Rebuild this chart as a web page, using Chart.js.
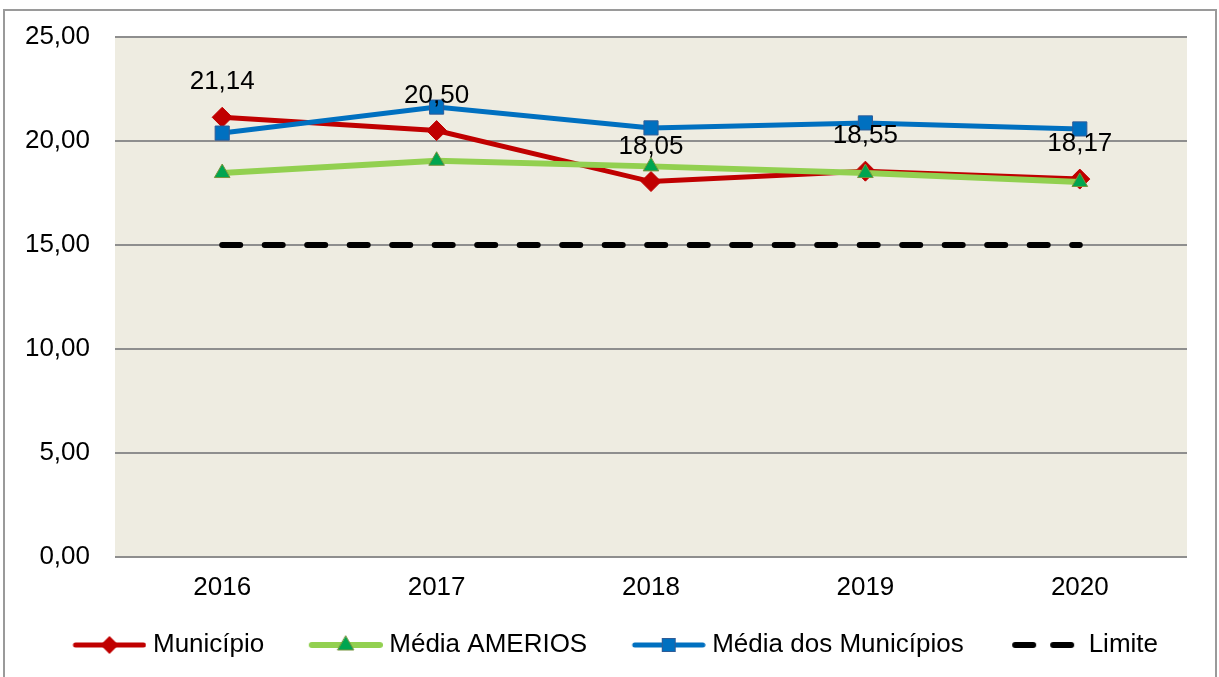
<!DOCTYPE html>
<html>
<head>
<meta charset="utf-8">
<script src="https://cdn.jsdelivr.net/npm/chart.js@4"></script>
<style>
    html, body { margin: 0; padding: 0; background: #fff; }
    #wrap { position: relative; width: 1219px; height: 677px; overflow: hidden; }
    #chart { position: absolute; left: 0; top: 0; }
    /* moldura cinza do gráfico (a base fica fora da área visível) */
    #frame { position: absolute; left: 3px; top: 9px; width: 1210px; height: 720px; border: 2px solid #9a9a9a; pointer-events: none; }
</style>
</head>
<body>
<div id="wrap">
    <canvas id="chart" width="1219" height="677"></canvas>
    <div id="frame"></div>
</div>
<script>
// Dados
const anos = ['2016', '2017', '2018', '2019', '2020'];
const municipio = [21.14, 20.50, 18.05, 18.55, 18.17];
const mediaAmerios = [18.46, 19.05, 18.78, 18.46, 18.03];
const mediaMunicipios = [20.38, 21.63, 20.63, 20.87, 20.58];
const limite = [15, 15, 15, 15, 15];
const yTicks = [0, 5, 10, 15, 20, 25];

const FONTE = "'Liberation Sans', Arial, sans-serif";
const TAM = 26;
const formatar = v => v.toFixed(2).replace('.', ',');

// Ícones da legenda no estilo Excel (linha com marcador no meio)
function criarIcone(desenhar) {
    const c = document.createElement('canvas');
    c.width = 115;
    c.height = 26;
    desenhar(c.getContext('2d'));
    return c;
}

function linha(ctx, cor, largura) {
    ctx.strokeStyle = cor;
    ctx.lineWidth = largura;
    ctx.lineCap = 'round';
    ctx.beginPath();
    ctx.moveTo(44, 13);
    ctx.lineTo(112, 13);
    ctx.stroke();
}

const icones = [
    criarIcone(ctx => {
        linha(ctx, '#C00000', 5);
        ctx.fillStyle = '#C00000';
        ctx.beginPath();
        ctx.moveTo(69, 13); ctx.lineTo(78, 4); ctx.lineTo(87, 13); ctx.lineTo(78, 22);
        ctx.closePath();
        ctx.fill();
    }),
    criarIcone(ctx => {
        linha(ctx, '#92D050', 6);
        ctx.fillStyle = '#00A550';
        ctx.strokeStyle = '#77933C';
        ctx.lineWidth = 1;
        ctx.beginPath();
        ctx.moveTo(78, 4); ctx.lineTo(86, 18); ctx.lineTo(70, 18);
        ctx.closePath();
        ctx.fill();
        ctx.stroke();
    }),
    criarIcone(ctx => {
        linha(ctx, '#0070C0', 5);
        ctx.fillStyle = '#0070C0';
        ctx.strokeStyle = '#2F5C97';
        ctx.lineWidth = 1;
        ctx.fillRect(71, 6, 14, 14);
        ctx.strokeRect(71.5, 6.5, 13, 13);
    }),
    criarIcone(ctx => {
        ctx.strokeStyle = '#000';
        ctx.lineWidth = 6;
        ctx.lineCap = 'round';
        ctx.beginPath();
        ctx.moveTo(48, 13); ctx.lineTo(66, 13);
        ctx.moveTo(86, 13); ctx.lineTo(104, 13);
        ctx.stroke();
    })
];

// Fundo bege da área de plotagem
const fundoPlotagem = {
    id: 'fundoPlotagem',
    beforeDraw(chart) {
        const { ctx, chartArea: a } = chart;
        ctx.save();
        ctx.fillStyle = '#EEECE1';
        ctx.fillRect(a.left, a.top, a.right - a.left, a.bottom - a.top);
        ctx.restore();
    }
};

// Rótulos de valores acima da série Município
const rotulosMunicipio = {
    id: 'rotulosMunicipio',
    afterDatasetsDraw(chart) {
        const { ctx } = chart;
        const meta = chart.getDatasetMeta(0);
        ctx.save();
        ctx.font = `${TAM}px ${FONTE}`;
        ctx.fillStyle = '#000';
        ctx.textAlign = 'center';
        ctx.textBaseline = 'middle';
        meta.data.forEach((pt, i) => {
            ctx.fillText(formatar(municipio[i]), pt.x, pt.y - 35);
        });
        ctx.restore();
    }
};

new Chart(document.getElementById('chart'), {
    type: 'line',
    data: {
        labels: anos,
        datasets: [
            {
                label: 'Município',
                data: municipio,
                borderColor: '#C00000',
                borderWidth: 5,
                pointStyle: 'rectRot',
                pointRadius: 10,
                pointBackgroundColor: '#C00000',
                pointBorderColor: '#C00000',
                pointBorderWidth: 1,
                order: 3
            },
            {
                label: 'Média AMERIOS',
                data: mediaAmerios,
                borderColor: '#92D050',
                borderWidth: 6,
                pointStyle: 'triangle',
                pointRadius: 9,
                pointBackgroundColor: '#00A550',
                pointBorderColor: '#77933C',
                pointBorderWidth: 1,
                order: 2
            },
            {
                label: 'Média dos Municípios',
                data: mediaMunicipios,
                borderColor: '#0070C0',
                borderWidth: 5,
                pointStyle: 'rect',
                pointRadius: 10,
                pointBackgroundColor: '#0070C0',
                pointBorderColor: '#2F5C97',
                pointBorderWidth: 1,
                order: 1
            },
            {
                label: 'Limite',
                data: limite,
                borderColor: '#000',
                borderWidth: 6,
                borderDash: [18, 24.5],
                borderCapStyle: 'round',
                pointRadius: 0,
                order: 4
            }
        ]
    },
    options: {
        responsive: false,
        animation: false,
        devicePixelRatio: 1,
        layout: { padding: { top: 37, right: 32, bottom: 9, left: 9 } },
        scales: {
            x: {
                offset: true,
                grid: { display: false, drawTicks: false },
                border: { display: false },
                ticks: { color: '#000', font: { family: FONTE, size: TAM }, padding: 15 },
                afterFit: s => { s.height = 65; }
            },
            y: {
                min: 0,
                max: 25,
                afterBuildTicks: s => { s.ticks = yTicks.map(v => ({ value: v })); },
                grid: { color: '#8E8E8E', lineWidth: 2, drawTicks: false },
                border: { display: false },
                ticks: {
                    color: '#000',
                    font: { family: FONTE, size: TAM },
                    padding: 25,
                    callback: v => formatar(v)
                },
                afterFit: s => {
                    s.width = 106;
                    // a margem superior fica só com o padding do layout
                    s.paddingTop = 0;
                    s.paddingBottom = 0;
                }
            }
        },
        plugins: {
            tooltip: { enabled: false },
            legend: {
                position: 'bottom',
                labels: {
                    usePointStyle: true,
                    pointStyleWidth: 102,
                    boxHeight: TAM,
                    padding: 10,
                    color: '#000',
                    font: { family: FONTE, size: TAM },
                    sort: (a, b) => a.datasetIndex - b.datasetIndex,
                    generateLabels: chart => chart.data.datasets.map((ds, i) => ({
                        text: ds.label,
                        pointStyle: icones[i],
                        datasetIndex: i,
                        fillStyle: 'transparent',
                        strokeStyle: 'transparent',
                        lineWidth: 0,
                        hidden: false
                    }))
                }
            }
        }
    },
    plugins: [fundoPlotagem, rotulosMunicipio]
});
</script>
</body>
</html>
